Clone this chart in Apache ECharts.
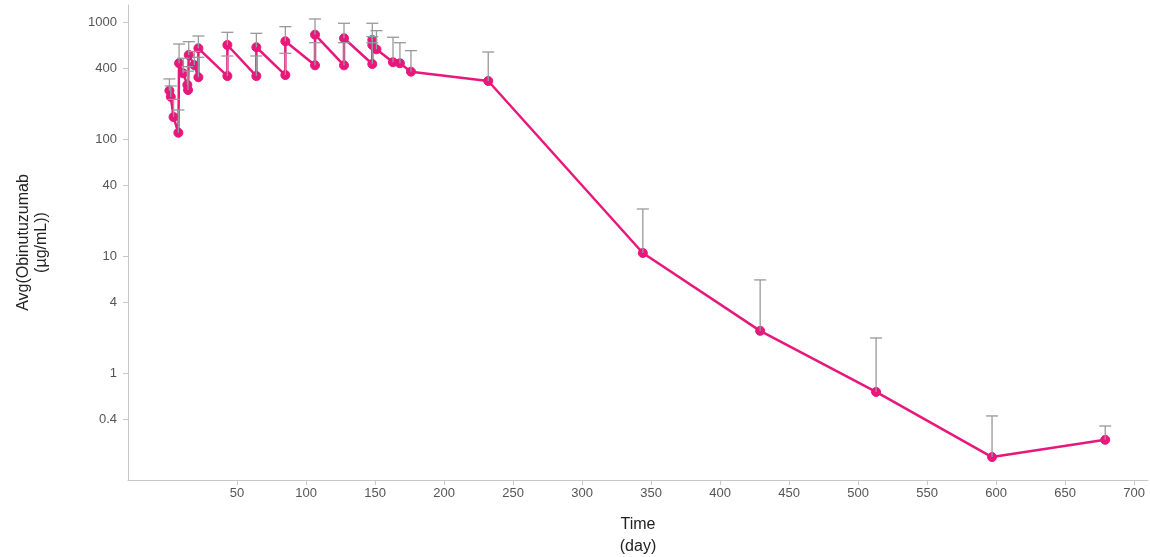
<!DOCTYPE html>
<html>
<head>
<meta charset="utf-8">
<title>Avg(Obinutuzumab) over time</title>
<script src="https://cdn.jsdelivr.net/npm/echarts@6/dist/echarts.min.js"></script>
<style>
  html, body { margin: 0; padding: 0; background: #ffffff; }
  #chart { width: 1150px; height: 557px; }
</style>
</head>
<body>
<div id="chart"></div>
<script>
// Sampling time of each mean concentration (day)
const days = [1, 2, 4, 7.5, 8, 11, 14, 14.5, 15, 19, 22, 22, 43, 43, 64, 64, 85, 85,
  106.5, 106.5, 127.5, 127.5, 148, 148, 148, 151, 163, 168, 176, 232, 344, 429, 513, 597, 679];
// Mean obinutuzumab concentration (µg/mL)
const meanConc = [259, 229, 154, 113, 444, 364, 290, 262, 522, 428, 337, 596, 345, 636, 345, 608,
  352, 684, 426, 779, 426, 726, 437, 702, 636, 584, 453, 444, 376, 313, 10.6, 2.29, 0.688, 0.191, 0.268];
// Mean + SD (upper end of each error bar)
const upperConc = [326, 284, 218, 177, 648, 490, 415, 380, 679, 560, 499, 759, 512, 816, 512, 800,
  540, 912, 665, 1061, 665, 975, 665, 975, 749, 843, 740, 665, 569, 554, 25.2, 6.24, 1.99, 0.429, 0.352];

// Axis tick labels
const xTicks = [50, 100, 150, 200, 250, 300, 350, 400, 450, 500, 550, 600, 650, 700];
const yTicks = [0.4, 1, 4, 10, 40, 100, 400, 1000];

const lineData = days.map((d, i) => [d, meanConc[i]]);
const errData = days.map((d, i) => [d, meanConc[i], upperConc[i]]);

const chart = echarts.init(document.getElementById('chart'), null, { renderer: 'canvas' });

const FONT = 'Liberation Sans, Arial, sans-serif';
const labelFont = { fontFamily: FONT, fontSize: 13, color: '#555' };
const nameFont = { fontFamily: FONT, fontSize: 16, color: '#222' };

chart.setOption({
  animation: false,
  backgroundColor: '#ffffff',
  grid: { left: 128, right: 2, top: 5, bottom: 77, containLabel: false, outerBoundsMode: 'none' },
  xAxis: {
    type: 'value',
    min: -29,
    max: 710,
    name: 'Time\n(day)',
    nameLocation: 'middle',
    nameGap: 34,
    nameTextStyle: Object.assign({ lineHeight: 22 }, nameFont),
    axisLine: { show: true, onZero: false, lineStyle: { color: '#c8c8c8', width: 1 } },
    axisTick: { show: true, length: 5, customValues: xTicks, lineStyle: { color: '#c8c8c8' } },
    axisLabel: Object.assign({ customValues: xTicks, margin: 7 }, labelFont),
    splitLine: { show: false }
  },
  yAxis: {
    type: 'log',
    logBase: 10,
    min: 0.1216,
    max: 1397,
    name: 'Avg(Obinutuzumab\n(µg/mL))',
    nameLocation: 'middle',
    nameRotate: 90,
    nameGap: 77,
    nameTextStyle: Object.assign({ lineHeight: 18 }, nameFont),
    axisLine: { show: true, onZero: false, lineStyle: { color: '#c8c8c8', width: 1 } },
    axisTick: { show: true, length: 5, customValues: yTicks, lineStyle: { color: '#c8c8c8' } },
    axisLabel: Object.assign({ customValues: yTicks, margin: 11, formatter: v => String(v) }, labelFont),
    splitLine: { show: false }
  },
  series: [
    {
      type: 'line',
      data: lineData,
      z: 2,
      symbol: 'circle',
      symbolSize: 9,
      lineStyle: { color: '#e8177c', width: 2.5 },
      itemStyle: { color: '#e8177c', borderColor: '#e8177c' }
    },
    {
      type: 'custom',
      z: 3,
      data: errData,
      encode: { x: 0, y: [1, 2] },
      renderItem: function (params, api) {
        const x = api.value(0);
        const lo = api.coord([x, api.value(1)]);
        const hi = api.coord([x, api.value(2)]);
        const half = 6;
        const style = { stroke: '#999999', lineWidth: 1.3 };
        return {
          type: 'group',
          children: [
            { type: 'line', shape: { x1: lo[0], y1: lo[1], x2: hi[0], y2: hi[1] }, style: style },
            { type: 'line', shape: { x1: hi[0] - half, y1: hi[1], x2: hi[0] + half, y2: hi[1] }, style: style }
          ]
        };
      }
    }
  ]
});
</script>
</body>
</html>
